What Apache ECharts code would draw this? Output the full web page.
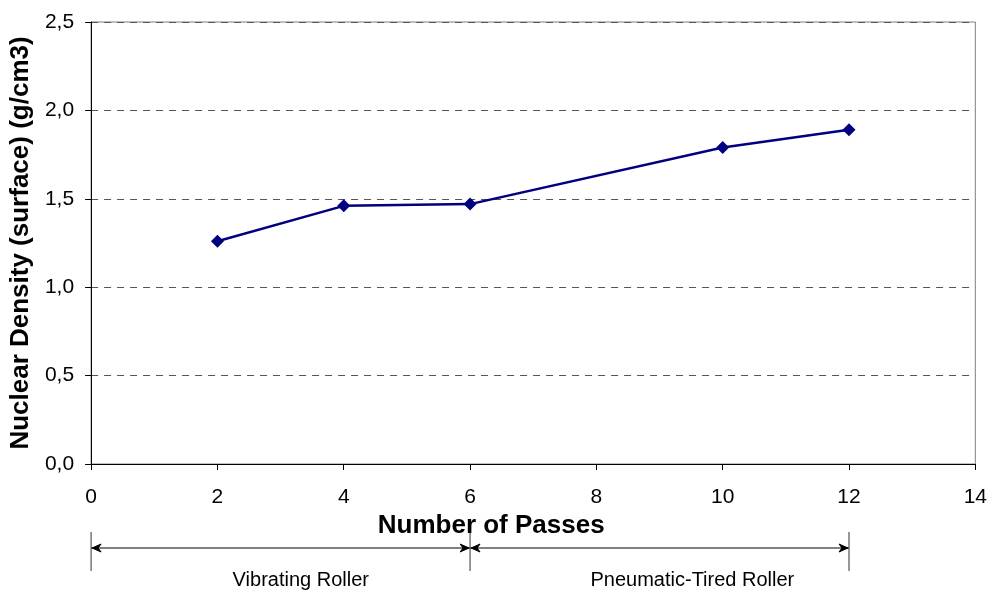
<!DOCTYPE html>
<html>
<head>
<meta charset="utf-8">
<script src="https://cdn.jsdelivr.net/npm/echarts@6/dist/echarts.min.js"></script>
<style>
  html, body { margin: 0; padding: 0; background: #fff; }
  #chart { width: 990px; height: 592px; }
</style>
</head>
<body>
<div id="chart"></div>
<script>
// data
var passes = [2, 4, 6, 10, 12];
var density = [1.26, 1.46, 1.47, 1.79, 1.89];
// roller phases under the x axis: [from, to, label, label position]
var phaseFrom = [0, 6];
var phaseTo = [6, 12];
var phaseNames = ['Vibrating Roller', 'Pneumatic-Tired Roller'];
var phaseLabelAt = [3.32, 9.52];

var font = '"Liberation Sans", Arial, sans-serif';
var chart = echarts.init(document.getElementById('chart'));

var option = {
  animation: false,
  backgroundColor: '#fff',
  textStyle: { fontFamily: font },
  grid: {
    left: 91, right: 14, top: 22, bottom: 128,
    show: true, borderColor: '#808080', borderWidth: 1
  },
  xAxis: {
    type: 'value',
    min: 0, max: 14, interval: 2,
    name: 'Number of Passes',
    nameLocation: 'middle',
    nameGap: 44,
    nameTextStyle: {
      fontFamily: font, fontSize: 26, fontWeight: 'bold', color: '#000',
      padding: [0, 84, 0, 0]
    },
    axisLine: { lineStyle: { color: '#000', width: 1 } },
    axisTick: { show: true, length: 6, lineStyle: { color: '#000' } },
    axisLabel: { fontFamily: font, fontSize: 21, color: '#000', margin: 23 },
    splitLine: { show: false }
  },
  yAxis: {
    type: 'value',
    min: 0, max: 2.5, interval: 0.5,
    name: 'Nuclear Density (surface) (g/cm3)',
    nameLocation: 'middle',
    nameGap: 53,
    nameTextStyle: { fontFamily: font, fontSize: 26, fontWeight: 'bold', color: '#000' },
    axisLine: { show: true, lineStyle: { color: '#000', width: 1 } },
    axisTick: { show: true, length: 6, lineStyle: { color: '#000' } },
    axisLabel: {
      fontFamily: font, fontSize: 21, color: '#000', margin: 17,
      formatter: function (v) { return v.toFixed(1).replace('.', ','); }
    },
    splitLine: { show: true, lineStyle: { color: '#555', type: [7, 6], width: 1 } }
  },
  series: [
    {
      type: 'line',
      data: passes.map(function (p, i) { return [p, density[i]]; }),
      symbol: 'diamond',
      symbolSize: 13,
      lineStyle: { color: '#000080', width: 2.5 },
      itemStyle: { color: '#000080' }
    }
  ]
};
chart.setOption(option);

// phase arrows below the axis, placed through the x axis scale
function px(v) { return chart.convertToPixel({ xAxisIndex: 0 }, v); }
var graphics = [];
var yArrow = 548, yTop = 532, yBottom = 571, head = 10, half = 4;
var stops = [];
phaseFrom.forEach(function (a, i) {
  var x1 = px(a), x2 = px(phaseTo[i]);
  stops.push(x1, x2);
  graphics.push({ type: 'line', shape: { x1: x1, y1: yArrow, x2: x2, y2: yArrow }, style: { stroke: '#000', lineWidth: 1 } });
  graphics.push({ type: 'polygon', shape: { points: [[x1 + head, yArrow - half], [x1 + 1, yArrow], [x1 + head, yArrow + half], [x1 + head - 3, yArrow]] }, style: { stroke: '#000', lineWidth: 1, fill: '#000' } });
  graphics.push({ type: 'polygon', shape: { points: [[x2 - head, yArrow - half], [x2 - 1, yArrow], [x2 - head, yArrow + half], [x2 - head + 3, yArrow]] }, style: { stroke: '#000', lineWidth: 1, fill: '#000' } });
  graphics.push({
    type: 'text', x: px(phaseLabelAt[i]), y: 580,
    style: { text: phaseNames[i], font: '20px ' + font, fill: '#000', align: 'center', verticalAlign: 'middle' }
  });
});
stops.filter(function (v, i, arr) { return arr.indexOf(v) === i; }).forEach(function (x) {
  graphics.push({ type: 'line', shape: { x1: x, y1: yTop, x2: x, y2: yBottom }, style: { stroke: '#333', lineWidth: 1 } });
});
chart.setOption({ graphic: graphics });
</script>
</body>
</html>
